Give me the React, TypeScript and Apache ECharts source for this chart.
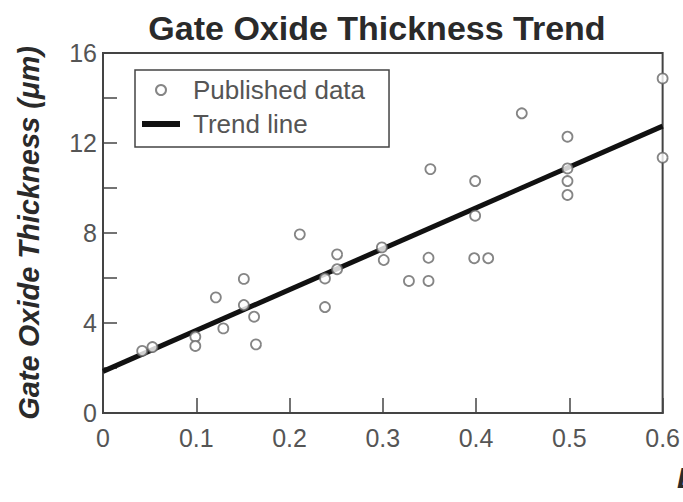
import React, { useEffect, useRef } from "react";
import * as echarts from "echarts";

// Measured gate length (x) and oxide thickness (y) pairs
const dataX = [
  0.042, 0.053, 0.099, 0.099, 0.121, 0.129, 0.151, 0.151, 0.162, 0.164,
  0.211, 0.238, 0.238, 0.251, 0.251, 0.299, 0.301, 0.328, 0.349, 0.349,
  0.351, 0.399, 0.399, 0.398, 0.413, 0.449, 0.498, 0.498, 0.498, 0.498,
  0.6, 0.6,
];
const dataY = [
  2.76, 2.93, 3.39, 2.98, 5.14, 3.76, 5.96, 4.8, 4.28, 3.05,
  7.94, 5.98, 4.71, 7.05, 6.39, 7.36, 6.8, 5.87, 5.87, 6.9,
  10.84, 10.31, 8.77, 6.88, 6.88, 13.32, 12.28, 10.87, 10.31, 9.69,
  14.87, 11.35,
];

// Linear trend endpoints
const trendX = [0, 0.6];
const trendY = [1.85, 12.75];

const xTicks = [0, 0.1, 0.2, 0.3, 0.4, 0.5, 0.6];
const yTicks = [0, 4, 8, 12, 16];

const FONT = "'Liberation Sans', Arial, Helvetica, sans-serif";

export default function App() {
  const ref = useRef<HTMLDivElement>(null);

  useEffect(() => {
    if (!ref.current) return;
    const chart = echarts.init(ref.current, undefined, { renderer: "svg" });
    const scatterData = dataX.map((x, i) => [x, dataY[i]]);
    const trendData = trendX.map((x, i) => [x, trendY[i]]);

    chart.setOption({
      animation: false,
      backgroundColor: "#ffffff",
      textStyle: { fontFamily: FONT },
      title: {
        text: "Gate Oxide Thickness Trend",
        left: 372,
        top: 6,
        textAlign: "center",
        textStyle: { fontFamily: FONT, fontSize: 34, fontWeight: "bold", color: "#2a2a2a" },
      },
      grid: {
        left: 103,
        right: 19,
        top: 53,
        bottom: 89,
        show: true,
        borderColor: "#444",
        borderWidth: 2,
        backgroundColor: "transparent",
      },
      legend: {
        left: 135,
        top: 70,
        orient: "vertical",
        padding: [7, 24, 10, 4],
        itemGap: 8,
        itemWidth: 38,
        itemHeight: 10,
        borderColor: "#444",
        borderWidth: 1.5,
        backgroundColor: "#fff",
        textStyle: { fontFamily: FONT, fontSize: 26, color: "#555", padding: [0, 0, 0, 8] },
        data: [
          { name: "Published data", icon: "circle" },
          { name: "Trend line", itemStyle: { opacity: 0 }, lineStyle: { width: 6, color: "#111" } },
        ],
      },
      xAxis: {
        type: "value",
        min: xTicks[0],
        max: xTicks[xTicks.length - 1],
        interval: 0.1,
        axisLine: { show: true, lineStyle: { color: "#444", width: 2 } },
        axisTick: { show: true, inside: true, length: 15, lineStyle: { color: "#444", width: 1.5 } },
        splitLine: { show: false },
        axisLabel: {
          margin: 12,
          fontFamily: FONT,
          fontSize: 25,
          color: "#555",
          formatter: (v: number) => (xTicks.some((t) => Math.abs(t - v) < 1e-9) ? String(Math.round(v * 10) / 10) : ""),
        },
      },
      yAxis: {
        type: "value",
        min: 0,
        max: 16,
        interval: 2,
        name: "Gate Oxide Thickness (μm)",
        nameLocation: "middle",
        nameRotate: 90,
        nameGap: 60,
        nameTextStyle: { fontFamily: FONT, fontSize: 29, fontWeight: "bold", fontStyle: "italic", color: "#2a2a2a" },
        axisLine: { show: true, lineStyle: { color: "#444", width: 2 } },
        axisTick: { show: true, inside: true, length: 14, lineStyle: { color: "#444", width: 1.5 } },
        splitLine: { show: false },
        axisLabel: {
          margin: 6,
          fontFamily: FONT,
          fontSize: 25,
          color: "#555",
          formatter: (v: number) => (yTicks.includes(v) ? String(v) : ""),
        },
      },
      series: [
        {
          name: "Trend line",
          type: "line",
          data: trendData,
          showSymbol: false,
          symbol: "none",
          lineStyle: { color: "#111", width: 5 },
          itemStyle: { color: "#111" },
          z: 2,
        },
        {
          name: "Published data",
          type: "scatter",
          data: scatterData,
          symbol: "circle",
          symbolSize: 10,
          itemStyle: { color: "#fff", borderColor: "#666", borderWidth: 1.8 },
          z: 3,
        },
      ],
      graphic: [
        {
          type: "text",
          left: 677,
          top: 462,
          style: { text: "L (μm)", font: `italic bold 30px ${FONT}`, fill: "#2a2a2a" },
        },
      ],
    });

    return () => chart.dispose();
  }, []);

  return (
    <div
      ref={ref}
      style={{ position: "absolute", left: 0, top: 0, width: 683, height: 502 }}
    />
  );
}
